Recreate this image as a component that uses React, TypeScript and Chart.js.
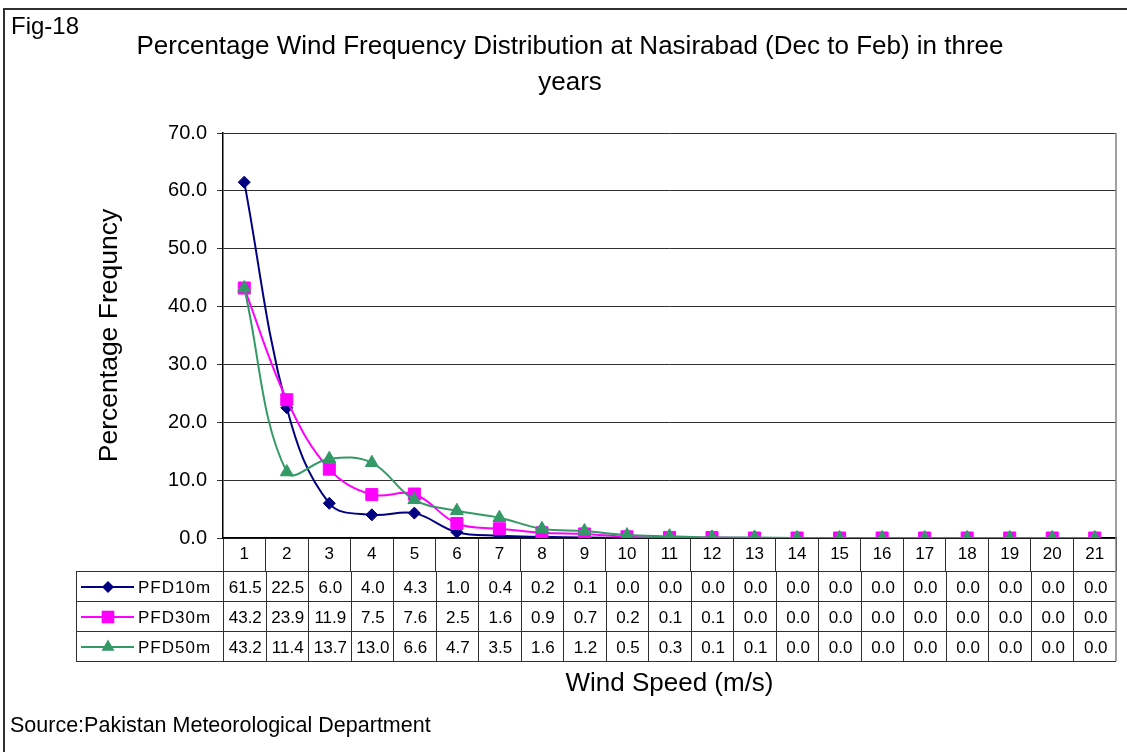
import React, { useEffect, useRef } from "react";
import { Chart, registerables } from "chart.js";

Chart.register(...registerables);

const categories = ["1","2","3","4","5","6","7","8","9","10","11","12","13","14","15","16","17","18","19","20","21"];
const pfd10m = [61.5, 22.5, 6.0, 4.0, 4.3, 1.0, 0.4, 0.2, 0.1, 0.0, 0.0, 0.0, 0.0, 0.0, 0.0, 0.0, 0.0, 0.0, 0.0, 0.0, 0.0];
const pfd30m = [43.2, 23.9, 11.9, 7.5, 7.6, 2.5, 1.6, 0.9, 0.7, 0.2, 0.1, 0.1, 0.0, 0.0, 0.0, 0.0, 0.0, 0.0, 0.0, 0.0, 0.0];
const pfd50m = [43.2, 11.4, 13.7, 13.0, 6.6, 4.7, 3.5, 1.6, 1.2, 0.5, 0.3, 0.1, 0.1, 0.0, 0.0, 0.0, 0.0, 0.0, 0.0, 0.0, 0.0];
const seriesNames = ["PFD10m", "PFD30m", "PFD50m"];
const seriesColors = ["#000080", "#FF00FF", "#339966"];
const seriesShapes = ["rectRot", "rect", "triangle"];
const titleLines = ["Percentage Wind Frequency Distribution at Nasirabad (Dec to Feb) in three", "years"];
const figLabel = "Fig-18";
const sourceText = "Source:Pakistan Meteorological Department";
const yTitle = "Percentage Frequncy";
const xTitle = "Wind Speed (m/s)";

const FONT = "'Liberation Sans', Arial, sans-serif";
const W = 1127;
const H = 752;

function drawShape(ctx: CanvasRenderingContext2D, shape: string, x: number, y: number, color: string) {
  ctx.save();
  ctx.fillStyle = color;
  ctx.beginPath();
  if (shape === "rectRot") {
    const r = 6;
    ctx.moveTo(x, y - r);
    ctx.lineTo(x + r, y);
    ctx.lineTo(x, y + r);
    ctx.lineTo(x - r, y);
  } else if (shape === "rect") {
    const s = 6.3;
    ctx.rect(x - s, y - s, 2 * s, 2 * s);
  } else {
    const r = 7.5;
    ctx.moveTo(x, y - r);
    ctx.lineTo(x + r * Math.sin((2 * Math.PI) / 3), y - r * Math.cos((2 * Math.PI) / 3));
    ctx.lineTo(x + r * Math.sin((4 * Math.PI) / 3), y - r * Math.cos((4 * Math.PI) / 3));
  }
  ctx.closePath();
  ctx.fill();
  ctx.restore();
}

const decorPlugin = {
  id: "decor",
  afterDraw(chart: any) {
    const ctx: CanvasRenderingContext2D = chart.ctx;
    const xs = chart.scales.x;
    const area = chart.chartArea;
    const seriesData = [pfd10m, pfd30m, pfd50m];
    ctx.save();

    // outer border (left + top)
    ctx.strokeStyle = "#303030";
    ctx.lineWidth = 2;
    ctx.beginPath();
    ctx.moveTo(4, H);
    ctx.lineTo(4, 9);
    ctx.lineTo(W, 9);
    ctx.stroke();

    // Fig label
    ctx.fillStyle = "#000";
    ctx.textBaseline = "alphabetic";
    ctx.textAlign = "left";
    ctx.font = `24px ${FONT}`;
    ctx.fillText(figLabel, 11, 34);

    // title
    ctx.textAlign = "center";
    ctx.font = `26px ${FONT}`;
    ctx.fillText(titleLines[0], 570, 54);
    ctx.fillText(titleLines[1], 570, 90);

    // source
    ctx.textAlign = "left";
    ctx.font = `21.5px ${FONT}`;
    ctx.fillText(sourceText, 10, 732);

    // data table
    const rowTops = [571, 601, 631, 661];
    const tableLeft = 76;
    const tableRight = area.right;
    ctx.strokeStyle = "#303030";
    ctx.lineWidth = 1;
    ctx.beginPath();
    for (const ry of rowTops) {
      ctx.moveTo(tableLeft, ry + 0.5);
      ctx.lineTo(tableRight, ry + 0.5);
    }
    ctx.moveTo(tableLeft + 0.5, rowTops[0]);
    ctx.lineTo(tableLeft + 0.5, rowTops[3]);
    const bounds: number[] = [area.left];
    for (let i = 0; i < categories.length - 1; i++) {
      bounds.push((xs.getPixelForValue(i) + xs.getPixelForValue(i + 1)) / 2);
    }
    for (const b of bounds) {
      ctx.moveTo(Math.round(b) + 0.5, rowTops[0]);
      ctx.lineTo(Math.round(b) + 0.5, rowTops[3]);
    }
    ctx.stroke();

    // right border of plot (grey)
    ctx.strokeStyle = "#808080";
    ctx.lineWidth = 1.5;
    ctx.beginPath();
    ctx.moveTo(area.right, area.top);
    ctx.lineTo(area.right, rowTops[3]);
    ctx.stroke();

    const baselines = [593, 623, 653];
    for (let s = 0; s < 3; s++) {
      const by = baselines[s];
      const cy = (rowTops[s] + rowTops[s + 1]) / 2 + 1;
      ctx.strokeStyle = seriesColors[s];
      ctx.lineWidth = 2;
      ctx.beginPath();
      ctx.moveTo(81, cy);
      ctx.lineTo(134, cy);
      ctx.stroke();
      drawShape(ctx, seriesShapes[s], 108, cy, seriesColors[s]);
      ctx.fillStyle = "#000";
      ctx.font = `17px ${FONT}`;
      ctx.textAlign = "left";
      (ctx as any).letterSpacing = "1px";
      ctx.fillText(seriesNames[s], 138, by);
      (ctx as any).letterSpacing = "0px";
      ctx.textAlign = "center";
      const vals = seriesData[s];
      for (let i = 0; i < vals.length; i++) {
        ctx.fillText(vals[i].toFixed(1), xs.getPixelForValue(i) + 1, by);
      }
    }
    ctx.restore();
  },
};

export default function App() {
  const ref = useRef<HTMLCanvasElement>(null);
  useEffect(() => {
    if (!ref.current) return;
    const chart = new Chart(ref.current, {
      type: "line",
      data: {
        labels: categories,
        datasets: [
          {
            label: seriesNames[0],
            data: pfd10m,
            borderColor: seriesColors[0],
            backgroundColor: seriesColors[0],
            pointBackgroundColor: seriesColors[0],
            pointBorderColor: seriesColors[0],
            pointStyle: "rectRot",
            pointRadius: 6,
            pointBorderWidth: 1,
            borderWidth: 2,
            tension: 0.38,
            fill: false,
            order: 3,
          },
          {
            label: seriesNames[1],
            data: pfd30m,
            borderColor: seriesColors[1],
            backgroundColor: seriesColors[1],
            pointBackgroundColor: seriesColors[1],
            pointBorderColor: seriesColors[1],
            pointStyle: "rect",
            pointRadius: 8.5,
            pointBorderWidth: 1,
            borderWidth: 2,
            tension: 0.38,
            fill: false,
            order: 2,
          },
          {
            label: seriesNames[2],
            data: pfd50m,
            borderColor: seriesColors[2],
            backgroundColor: seriesColors[2],
            pointBackgroundColor: seriesColors[2],
            pointBorderColor: seriesColors[2],
            pointStyle: "triangle",
            pointRadius: 7.5,
            pointBorderWidth: 1,
            borderWidth: 2,
            tension: 0.38,
            fill: false,
            order: 1,
          },
        ],
      },
      options: {
        responsive: false,
        animation: false,
        devicePixelRatio: 1,
        layout: { padding: { left: 0, right: 11, top: 133, bottom: 0 } },
        plugins: {
          legend: { display: false },
          title: { display: false },
          tooltip: { enabled: false },
        },
        scales: {
          x: {
            type: "category",
            offset: true,
            grid: {
              display: true,
              drawOnChartArea: false,
              drawTicks: true,
              tickLength: 33,
              offset: true,
              color: "#303030",
              lineWidth: 1,
            },
            border: { display: true, color: "#000", width: 1.5 },
            ticks: {
              color: "#000",
              font: { family: FONT, size: 17 },
              padding: -27,
              maxRotation: 0,
              minRotation: 0,
              autoSkip: false,
            },
            title: {
              display: true,
              text: xTitle,
              color: "#000",
              font: { family: FONT, size: 26 },
              padding: { top: 0, bottom: 53 },
            },
            afterFit: (scale: any) => {
              scale.height = 214;
            },
          },
          y: {
            min: 0,
            max: 70,
            grid: {
              color: "#303030",
              lineWidth: 1,
              tickLength: 6,
              drawTicks: true,
            },
            border: { display: true, color: "#000", width: 1.5 },
            ticks: {
              stepSize: 10,
              color: "#000",
              font: { family: FONT, size: 20 },
              padding: 10,
              callback: (v: any) => Number(v).toFixed(1),
            },
            title: {
              display: true,
              text: yTitle,
              color: "#000",
              font: { family: FONT, size: 26.5 },
              padding: { top: 94, bottom: 0 },
            },
            afterFit: (scale: any) => {
              scale.width = 223;
            },
          },
        },
      },
      plugins: [decorPlugin],
    });
    return () => chart.destroy();
  }, []);
  return (
    <div style={{ position: "absolute", left: 0, top: 0, width: W, height: H, background: "#fff" }}>
      <canvas ref={ref} width={W} height={H} style={{ display: "block", width: W, height: H }} />
    </div>
  );
}
